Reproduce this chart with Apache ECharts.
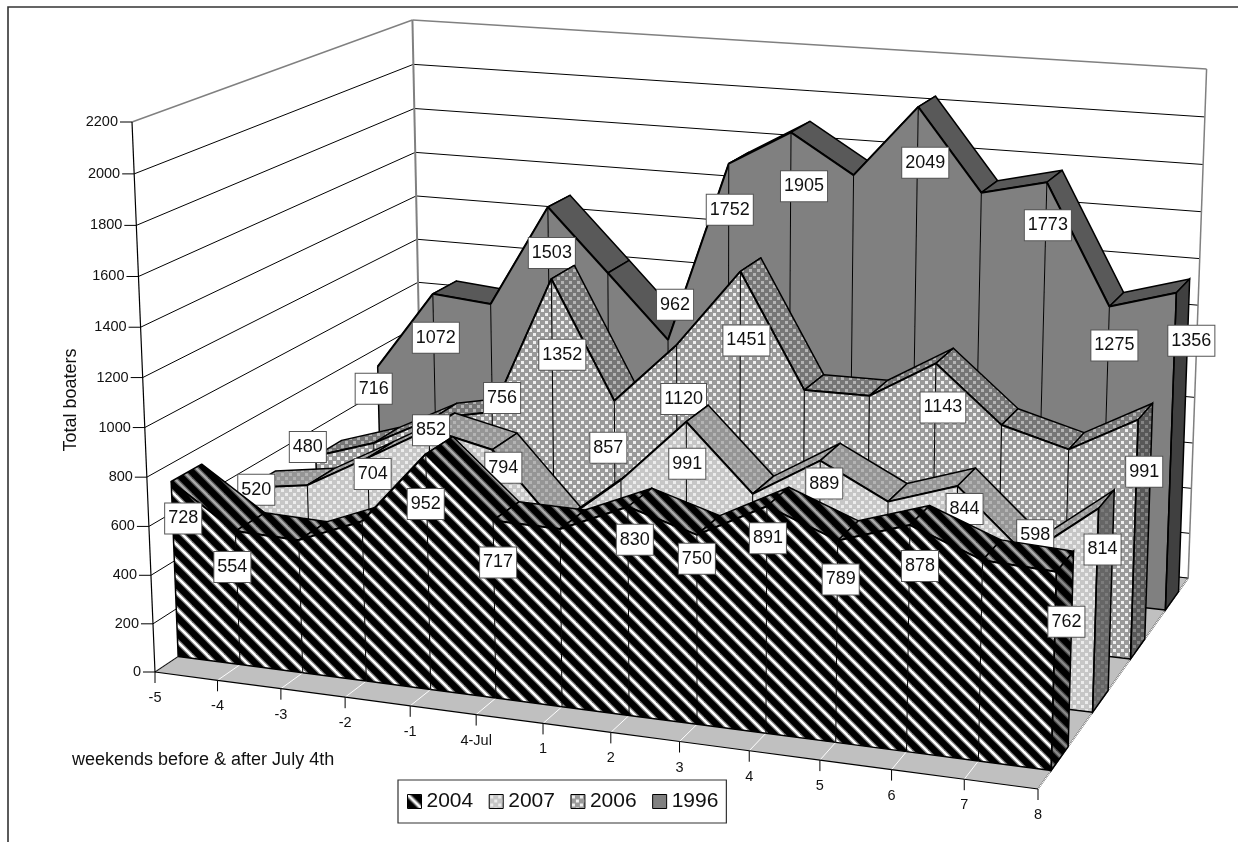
<!DOCTYPE html>
<html><head><meta charset="utf-8"><style>html,body{margin:0;padding:0;background:#fff}#c{width:1238px;height:842px}</style>
<script src="https://cdn.jsdelivr.net/npm/echarts@6/dist/echarts.min.js"></script></head>
<body><div id="c"></div><script>
// ---- data ----
const categories=['-5','-4','-3','-2','-1','4-Jul','1','2','3','4','5','6','7','8'];
const yTicks=[0,200,400,600,800,1000,1200,1400,1600,1800,2000,2200];
const legendOrder=['2004','2007','2006','1996'];
const values1996=[716,1072,1050,1503,1234,962,1752,1905,1743,2049,1709,1773,1275,1356];
const values2006=[480,565,700,756,1352,857,1120,1451,981,983,1143,915,842,991];
const values2007=[520,560,704,852,794,509,725,991,726,889,753,844,598,814];
const values2004=[728,554,547,654,952,717,713,830,750,891,789,878,775,762];
// label placement relative to the data point (null = no label shown)
const labelOffset1996=[[-4,22],[3,44],null,[4,46],null,[7,-35],[1,46],[13,54],null,[7,56],null,[1,43],[5,39],[15,48]];
const labelOffset2006=[[-8,-9],null,null,[10,-14],[11,76],[-6,47],[7,54],[6,69],null,null,[7,44],null,null,[6,52]];
const labelOffset2007=[[9,2],null,[5,16],[2,1],[11,18],null,null,[1,42],null,[4,23],null,[7,23],[9,-20],[4,41]];
const labelOffset2004=[[12,37],[-3,36],null,null,[0,50],[5,42],null,[7,33],[0,24],[1,32],[3,39],[10,41],null,[10,50]];

// ---- 3-D view: projective map of the unit box onto the page ----
const A0=[155,672],AX=[1038,789],AY=[132,122],AZ=[422.5,493.5];
const pa=0.9146,pb=0.96,pc=1.17;
const GRID_W=1000,GRID_H=800;
function project(nx,ny,nz){
  const w=1+nx*(pa-1)+ny*(pb-1)+nz*(pc-1);
  const f=i=>(A0[i]+nx*(pa*AX[i]-A0[i])+ny*(pb*AY[i]-A0[i])+nz*(pc*AZ[i]-A0[i]))/w;
  return [f(0),f(1)];
}
function pt(api,k,v,z){const c=api.coord([k,v]);return project(c[0]/GRID_W,1-c[1]/GRID_H,z);}

// ---- fills ----
function tile(size,draw){const c=document.createElement('canvas');c.width=c.height=size;draw(c.getContext('2d'),size);return {image:c,repeat:'repeat'};}
function stripes(bg,mid,fg){return tile(16,(g,s)=>{g.fillStyle=bg;g.fillRect(0,0,s,s);
  [[mid,4.8],[fg,2.4]].forEach(([col,lw])=>{g.strokeStyle=col;g.lineWidth=lw;
    [-s,0,s].forEach(d=>{g.beginPath();g.moveTo(d-2,-2);g.lineTo(d+s+2,s+2);g.stroke();});});});}
function dots(bg,fg){return tile(8,(g,s)=>{g.fillStyle=bg;g.fillRect(0,0,s,s);g.fillStyle=fg;g.fillRect(1,1,3,3);g.fillRect(5,5,3,3);});}
const styles={
 '1996':{front:'#808080',top:'#595959',end:'#404040'},
 '2006':{front:dots('#9a9a9a','#efefef'),top:dots('#767676','#b4b4b4'),end:dots('#585858','#858585')},
 '2007':{front:dots('#c6c6c6','#ececec'),top:dots('#959595','#b4b4b4'),end:dots('#666666','#7c7c7c')},
 '2004':{front:stripes('#000','#777','#fff'),top:stripes('#000','#555','#aaa'),end:stripes('#000','#444','#888')}
};
const BAND_FRONT={'2004':0.075,'2007':0.325,'2006':0.575,'1996':0.825};
const BAND_DEPTH=0.1;
const FONT='"Liberation Sans",Arial,sans-serif';
const poly=(points,style)=>({type:'polygon',shape:{points},style});
const line=(p,q,stroke,lineWidth)=>({type:'line',shape:{x1:p[0],y1:p[1],x2:q[0],y2:q[1]},style:{stroke,lineWidth}});

function areaSeries(name,vals){
  const st=styles[name],z0=BAND_FRONT[name],z1=z0+BAND_DEPTH,last=vals.length-1;
  return {type:'custom',name,coordinateSystem:'cartesian2d',silent:true,
    itemStyle:{color:st.front},encode:{x:0,y:1},
    data:vals.map((v,k)=>[k,v]),
    renderItem(p,api){
      const k=api.value(0),v=api.value(1),ch=[];
      const ft=pt(api,k,v,z0),fb=pt(api,k,0,z0),bt=pt(api,k,v,z1),bb=pt(api,k,0,z1);
      if(k<last){
        const n=vals[k+1];
        const ft2=pt(api,k+1,n,z0),fb2=pt(api,k+1,0,z0),bt2=pt(api,k+1,n,z1);
        ch.push(poly([ft,ft2,bt2,bt],{fill:st.top,stroke:'#000',lineWidth:1.5,lineJoin:'round'}));
        ch.push(poly([ft,ft2,fb2,fb],{fill:st.front,stroke:null}));
        ch.push(line(ft,ft2,'#000',2));
        ch.push(line(fb,fb2,'#000',1.5));
      }else{
        ch.push(poly([ft,bt,bb,fb],{fill:st.end,stroke:'#000',lineWidth:1.5}));
      }
      ch.push(line(ft,fb,'#000',k===0||k===last?1.5:1));
      return {type:'group',children:ch};
    }};
}
function labelSeries(name,vals,offsets){
  const z0=BAND_FRONT[name];
  const rows=[];vals.forEach((v,k)=>{if(offsets[k])rows.push([k,v]);});
  return {type:'custom',coordinateSystem:'cartesian2d',silent:true,encode:{x:0,y:1},data:rows,
    renderItem(p,api){
      const k=api.value(0),v=api.value(1),q=pt(api,k,v,z0),o=offsets[k];
      return {type:'text',x:q[0]+o[0],y:q[1]+o[1],style:{text:String(v),fontFamily:FONT,fontSize:18,fill:'#111',
        align:'center',verticalAlign:'middle',backgroundColor:'#fff',borderColor:'#555',borderWidth:1,padding:[6,3,6,3]}};
    }};
}
const floorSeries={type:'custom',coordinateSystem:'cartesian2d',silent:true,encode:{x:0,y:1},data:[[0,0]],
  renderItem(p,api){
    const a=pt(api,0,0,0),b=pt(api,13,0,0),c=pt(api,13,0,1),d=pt(api,0,0,1);
    return {type:'group',children:[poly([a,b,c,d],{fill:'#c0c0c0',stroke:null}),
      line(a,d,'#808080',1.5),line(b,c,'#000',1.2),line(c,d,'#808080',1)]};
  }};
const floorLines={type:'custom',coordinateSystem:'cartesian2d',silent:true,encode:{x:0,y:1},data:categories.map((c,k)=>[k,0]),
  renderItem(p,api){const k=api.value(0);return line(pt(api,k,0,0),pt(api,k,0,1),'#fff',1);}};
const gridSeries={type:'custom',coordinateSystem:'cartesian2d',silent:true,encode:{x:0,y:1},data:yTicks.map(v=>[0,v]),
  renderItem(p,api){
    const v=api.value(1),top=v===yTicks[yTicks.length-1];
    const a=pt(api,0,v,0),b=pt(api,0,v,1),c=pt(api,13,v,1),col=top?'#808080':'#000',lw=top?1.5:1;
    return {type:'group',children:[line(a,b,col,lw),line(b,c,col,lw),
      line([a[0]-12,a[1]],a,'#000',1),
      {type:'text',x:a[0]-14,y:a[1],style:{text:String(v),fontFamily:FONT,fontSize:14.5,fill:'#111',align:'right',verticalAlign:'middle'}}]};
  }};
const frameSeries={type:'custom',coordinateSystem:'cartesian2d',silent:true,encode:{x:0,y:1},data:[[0,0]],
  renderItem(p,api){
    const t=yTicks[yTicks.length-1];
    return {type:'group',children:[line(pt(api,0,0,1),pt(api,0,t,1),'#808080',2),line(pt(api,13,0,1),pt(api,13,t,1),'#808080',1.5)]};
  }};
const axisSeries={type:'custom',coordinateSystem:'cartesian2d',silent:true,encode:{x:0,y:1},data:categories.map((c,k)=>[k,0]),
  renderItem(p,api){
    const k=api.value(0),a=pt(api,k,0,0),ch=[line(a,[a[0],a[1]+11],'#000',1),
      {type:'text',x:a[0],y:a[1]+26,style:{text:categories[k],fontFamily:FONT,fontSize:14.5,fill:'#111',align:'center',verticalAlign:'middle'}}];
    if(k<13)ch.push(line(a,pt(api,k+1,0,0),'#000',1.2));
    return {type:'group',children:ch};
  }};
const yAxisLine={type:'custom',coordinateSystem:'cartesian2d',silent:true,encode:{x:0,y:1},data:[[0,0]],
  renderItem(p,api){return line(pt(api,0,0,0),pt(api,0,yTicks[yTicks.length-1],0),'#000',1.2);}};

const chart=echarts.init(document.getElementById('c'),null,{renderer:'canvas',width:1238,height:842});
chart.setOption({
  animation:false,backgroundColor:'#fff',tooltip:{show:false},
  grid:{left:0,top:0,width:GRID_W,height:GRID_H,containLabel:false,show:false},
  xAxis:{type:'category',data:categories,boundaryGap:false,show:false},
  yAxis:{type:'value',min:0,max:2200,interval:200,show:false},
  legend:{data:legendOrder,left:398,top:780,orient:'horizontal',icon:'rect',itemWidth:14,itemHeight:14,itemGap:15.5,
    selectedMode:false,padding:[11,8,11,9],backgroundColor:'#fff',borderColor:'#333',borderWidth:1.2,
    itemStyle:{borderColor:'#000',borderWidth:1},
    textStyle:{fontFamily:FONT,fontSize:21,color:'#111'}},
  graphic:[
    {type:'polyline',shape:{points:[[8,842],[8,7],[1238,7]]},style:{stroke:'#333',lineWidth:1.6,fill:null},silent:true},
    {type:'text',x:71,y:400,rotation:Math.PI/2,style:{text:'Total boaters',fontFamily:FONT,fontSize:18,fill:'#111',align:'center',verticalAlign:'middle'},silent:true},
    {type:'text',x:72,y:760,style:{text:'weekends before & after July 4th',fontFamily:FONT,fontSize:18,fill:'#111',align:'left',verticalAlign:'middle'},silent:true}
  ],
  series:[floorSeries,floorLines,gridSeries,frameSeries,axisSeries,yAxisLine,
    areaSeries('1996',values1996),labelSeries('1996',values1996,labelOffset1996),
    areaSeries('2006',values2006),labelSeries('2006',values2006,labelOffset2006),
    areaSeries('2007',values2007),labelSeries('2007',values2007,labelOffset2007),
    areaSeries('2004',values2004),labelSeries('2004',values2004,labelOffset2004)]
});
</script></body></html>
